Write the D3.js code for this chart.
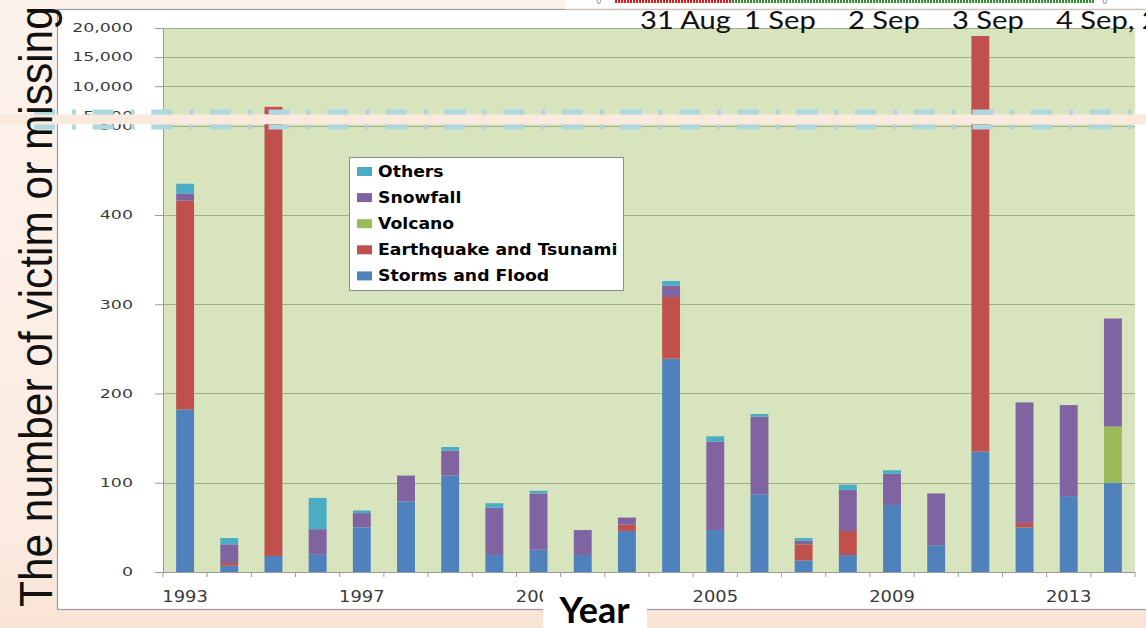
<!DOCTYPE html>
<html>
<head>
<meta charset="utf-8">
<script src="https://cdn.jsdelivr.net/npm/d3@7/dist/d3.min.js"></script>
<style>
  html, body { margin: 0; padding: 0; overflow: hidden; background: #fcefe6; }
  svg { display: block; }
</style>
</head>
<body>
<svg id="chart" width="1146" height="628"></svg>
<script>
// Victims and missing persons from natural disasters in Japan, by year and cause
const years = ["1993","1994","1995","1996","1997","1998","1999","2000","2001","2002","2003",
               "2004","2005","2006","2007","2008","2009","2010","2011","2012","2013","2014"];
const stormsFlood   = [182,  7,   18, 20, 50, 79, 108, 19, 25, 19, 46, 239, 47, 87, 13, 19, 75, 30,   135,  50,  85, 100];
const quakeTsunami  = [234,  3, 6437,  0,  0,  0,   0,  0,  0,  0,  7,  69,  0,  0, 18, 27,  0,  0, 18490,   5,   0,   0];
const volcano       = [  0,  0,    0,  0,  0,  0,   0,  0,  0,  0,  0,   0,  0,  0,  0,  0,  0,  0,     0,   0,   0,  63];
const snowfall      = [  8, 21,    0, 28, 16, 29,  28, 53, 63, 28,  8,  13, 99, 87,  4, 46, 35, 58,     0, 135, 102, 121];
const others        = [ 11,  7,    0, 35,  3,  0,   4,  5,  3,  0,  0,   5,  6,  3,  3,  6,  4,  0,     0,   0,   0,   0];

const seriesNames  = ["Storms and Flood", "Earthquake and Tsunami", "Volcano", "Snowfall", "Others"];
const seriesColors = ["#4f81bd", "#c0504d", "#9bbb59", "#8064a2", "#4bacc6"];

const yTickValues = [0, 100, 200, 300, 400, 500, 5000, 10000, 15000, 20000];
const xLabelYears = ["1993", "1997", "2001", "2005", "2009", "2013"];

const dateLabels = ["31 Aug", "1 Sep", "2 Sep", "3 Sep", "4 Sep, 2014"];
const dateTicks  = ["2014-08-31", "2014-09-01", "2014-09-02", "2014-09-03", "2014-09-04"];

// ---------------------------------------------------------------
const svg = d3.select("#chart");
const W = 1146, H = 628;

const defs = svg.append("defs");
const bg = defs.append("linearGradient").attr("id", "bgGrad")
  .attr("x1", 0).attr("y1", 0).attr("x2", 0).attr("y2", 1);
bg.append("stop").attr("offset", "0%").attr("stop-color", "#fdf3ec");
bg.append("stop").attr("offset", "85%").attr("stop-color", "#fbebe1");
bg.append("stop").attr("offset", "100%").attr("stop-color", "#f9e3d5");

svg.append("rect").attr("width", W).attr("height", H).attr("fill", "url(#bgGrad)");

// picture frame of the chart
svg.append("rect").attr("x", 57.5).attr("y", 9.5).attr("width", W).attr("height", 600)
  .attr("fill", "#ffffff").attr("stroke", "#9c9c9c").attr("stroke-width", 1.2);

// plot geometry
const plot = { left: 163, right: 1135, top: 28, bottom: 572 };

const x = d3.scaleBand().domain(years)
  .range([plot.left, plot.right])
  .paddingInner(0.595).paddingOuter(0.2975);

// broken value axis: 0–500 on the lower part, 5,000–20,000 compressed on top
const y = d3.scaleLinear()
  .domain([0, 500, 5000, 20000])
  .range([plot.bottom, 125.7, 115.3, plot.top]);

svg.append("rect")
  .attr("x", plot.left).attr("y", plot.top)
  .attr("width", plot.right - plot.left).attr("height", plot.bottom - plot.top)
  .attr("fill", "#d7e4bd");

// gridlines
svg.append("g").selectAll("line").data(yTickValues.filter(v => v > 0)).join("line")
  .attr("x1", plot.left).attr("x2", plot.right)
  .attr("y1", d => Math.round(y(d)) + 0.5).attr("y2", d => Math.round(y(d)) + 0.5)
  .attr("stroke", "#a3ad8a").attr("stroke-width", 1);

// stacked bars
const table = years.map((yr, i) => ({
  year: yr,
  s0: stormsFlood[i], s1: quakeTsunami[i], s2: volcano[i], s3: snowfall[i], s4: others[i]
}));
const keys = ["s0", "s1", "s2", "s3", "s4"];
const stacked = d3.stack().keys(keys)(table);

svg.append("g").selectAll("g").data(stacked).join("g")
  .attr("fill", (d, i) => seriesColors[i])
  .selectAll("rect").data(d => d.filter(p => p[1] > p[0])).join("rect")
  .attr("x", d => x(d.data.year))
  .attr("width", x.bandwidth())
  .attr("y", d => y(d[1]))
  .attr("height", d => y(d[0]) - y(d[1]));

// value axis
const yAxis = svg.append("g")
  .attr("transform", `translate(${plot.left},0)`)
  .call(d3.axisLeft(y).tickValues(yTickValues).tickFormat(d3.format(",")).tickSize(8).tickSizeOuter(0));
yAxis.select(".domain").attr("stroke", "#9a9a9a");
yAxis.selectAll(".tick line").attr("stroke", "#9a9a9a");
const yStretch = 1.45;
yAxis.selectAll(".tick text")
  .attr("font-family", "DejaVu Sans")
  .attr("font-size", 12)
  .attr("fill", "#3a3a3a")
  .attr("x", -30 / yStretch)
  .attr("transform", `scale(${yStretch},1)`);

// category axis
svg.append("line")
  .attr("x1", plot.left - 8).attr("x2", plot.right)
  .attr("y1", plot.bottom + 0.5).attr("y2", plot.bottom + 0.5)
  .attr("stroke", "#9a9a9a");
const boundaries = d3.range(years.length + 1).map(i => x.range()[0] + i * x.step());
svg.append("g").selectAll("line").data(boundaries).join("line")
  .attr("x1", d => d).attr("x2", d => d)
  .attr("y1", plot.bottom).attr("y2", plot.bottom + 5)
  .attr("stroke", "#9a9a9a");

const xStretch = 1.12;
svg.append("g").selectAll("text").data(xLabelYears).join("text")
  .attr("transform", d => `translate(${x(d) + x.bandwidth() / 2},601.5) scale(${xStretch},1)`)
  .attr("text-anchor", "middle")
  .attr("font-family", "DejaVu Sans")
  .attr("font-size", 16)
  .attr("fill", "#3a3a3a")
  .text(d => d);

// legend
const legend = svg.append("g");
legend.append("rect")
  .attr("x", 349.5).attr("y", 157.5).attr("width", 274).attr("height", 133)
  .attr("fill", "#ffffff").attr("stroke", "#8c8c8c");
const legendOrder = d3.range(seriesNames.length).reverse();
const items = legend.selectAll("g.item").data(legendOrder).join("g")
  .attr("class", "item")
  .attr("transform", (d, i) => `translate(357,${171.5 + i * 26.1})`);
items.append("rect")
  .attr("x", 0).attr("y", -4.5).attr("width", 15).attr("height", 9)
  .attr("fill", d => seriesColors[d]);
items.append("text")
  .attr("transform", "translate(21,5.5) scale(1.15,1)")
  .attr("font-family", "DejaVu Sans")
  .attr("font-weight", "bold")
  .attr("font-size", 15)
  .attr("fill", "#000")
  .text(d => seriesNames[d]);

// axis-break band
svg.append("rect").attr("x", 0).attr("y", 114.3).attr("width", W).attr("height", 10)
  .attr("fill", "#fae9dd");
[112, 127].forEach(yy => {
  svg.append("line")
    .attr("x1", 34).attr("x2", plot.right)
    .attr("y1", yy).attr("y2", yy)
    .attr("stroke", "#aed8df").attr("stroke-width", 4.8)
    .attr("stroke-dasharray", "21 17 4 16.65");
});

// axis titles
svg.append("text")
  .attr("transform", "translate(52,607) scale(1.1,1) rotate(-90)")
  .attr("font-family", "Liberation Sans, Arial, sans-serif")
  .attr("font-size", 42.4)
  .attr("fill", "#111")
  .text("The number of victim or missing");

svg.append("rect").attr("x", 543).attr("y", 580).attr("width", 104).attr("height", 48)
  .attr("fill", "#ffffff");
svg.append("text")
  .attr("x", 594.5).attr("y", 623)
  .attr("text-anchor", "middle")
  .attr("font-family", "Lato, sans-serif")
  .attr("font-weight", "bold")
  .attr("font-size", 36)
  .attr("fill", "#000")
  .text("Year");

// date strip across the top right
const parseDay = d3.timeParse("%Y-%m-%d");
const parseHour = d3.timeParse("%Y-%m-%dT%H:%M");
const tx = d3.scaleTime()
  .domain([parseDay(dateTicks[0]), parseDay(dateTicks[dateTicks.length - 1])])
  .range([640, 1056]);

svg.append("rect").attr("x", 565).attr("y", 0).attr("width", W - 565).attr("height", 8.5)
  .attr("fill", "#ffffff");
svg.append("line").attr("x1", 565).attr("x2", W).attr("y1", 9).attr("y2", 9)
  .attr("stroke", "#f6e3d6").attr("stroke-width", 1);

const strip = [
  { from: "2014-08-30T18:15", to: "2014-08-31T21:15", color: "#e01010" },
  { from: "2014-08-31T21:15", to: "2014-09-04T08:45", color: "#2a8a2a" }
];
svg.append("g").selectAll("line").data(strip).join("line")
  .attr("x1", d => tx(parseHour(d.from))).attr("x2", d => tx(parseHour(d.to)))
  .attr("y1", 1.5).attr("y2", 1.5)
  .attr("stroke", d => d.color).attr("stroke-width", 3)
  .attr("stroke-dasharray", "2 1");
svg.append("g").selectAll("text").data(["2014-08-30T14:30", "2014-09-04T11:15"]).join("text")
  .attr("x", d => tx(parseHour(d))).attr("y", 4)
  .attr("text-anchor", "middle")
  .attr("font-family", "DejaVu Sans").attr("font-size", 8).attr("fill", "#888")
  .text("0");

svg.append("g").selectAll("text").data(dateTicks).join("text")
  .attr("transform", d => `translate(${tx(parseDay(d))},28.5) scale(1.12,1)`)
  .attr("font-family", "Lato, sans-serif")
  .attr("font-size", 26)
  .attr("fill", "#111")
  .text((d, i) => dateLabels[i]);
</script>
</body>
</html>
